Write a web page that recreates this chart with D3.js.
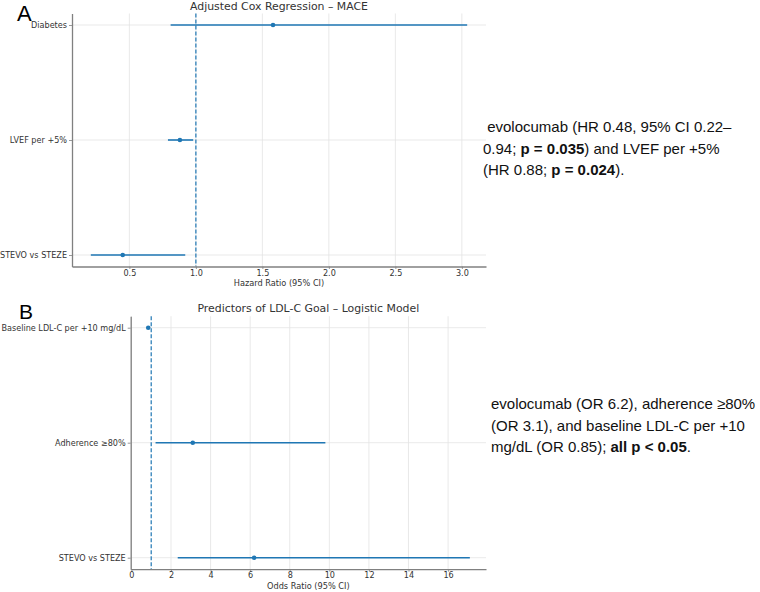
<!DOCTYPE html>
<html>
<head>
<meta charset="utf-8">
<script src="https://cdn.jsdelivr.net/npm/d3@7"></script>
<style>
  body { margin: 0; background: #fff; }
  svg { display: block; }
</style>
</head>
<body>
<div id="chart"></div>
<script>
// panel A - adjusted Cox regression (bottom to top)
const coxLabels = ['STEVO vs STEZE', 'LVEF per +5%', 'Diabetes'];
const coxHR = [0.45, 0.88, 1.58];
const coxLow = [0.21, 0.79, 0.81];
const coxHigh = [0.92, 0.98, 3.04];
const coxTicks = [0.5, 1.0, 1.5, 2.0, 2.5, 3.0];

// panel B - logistic model (bottom to top)
const logitLabels = ['STEVO vs STEZE', 'Adherence ≥80%', 'Baseline LDL-C per +10 mg/dL'];
const logitOR = [6.2, 3.1, 0.85];
const logitLow = [2.34, 1.22, 0.78];
const logitHigh = [17.1, 9.8, 0.92];
const logitTicks = [0, 2, 4, 6, 8, 10, 12, 14, 16];

// side notes, **bold** parts
const noteA = [' evolocumab (HR 0.48, 95% CI 0.22–', '0.94; **p = 0.035**) and LVEF per +5%', '(HR 0.88; **p = 0.024**).'];
const noteB = ['evolocumab (OR 6.2), adherence ≥80%', '(OR 3.1), and baseline LDL-C per +10', 'mg/dL (OR 0.85); **all p < 0.05**.'];

const width = 760, height = 592;
const blue = '#1f77b4';
const font = 'DejaVu Sans, sans-serif';

const svg = d3.select('#chart').append('svg')
  .attr('width', width)
  .attr('height', height);

function forest(o) {
  const rows = o.labels.map((l, i) => ({ label: l, est: o.est[i], lo: o.lo[i], hi: o.hi[i] }));
  const lo = d3.min(rows, d => d.lo), hi = d3.max(rows, d => d.hi);
  const pad = (hi - lo) * 0.05;

  const x = d3.scaleLinear().domain([lo - pad, hi + pad]).range([o.left, o.right]);
  const y = d3.scalePoint().domain(o.labels.slice().reverse()).range([o.top, o.bottom]).padding(0.1);

  const g = svg.append('g');

  // grid
  g.append('g').selectAll('line').data(o.ticks).join('line')
    .attr('x1', d => x(d)).attr('x2', d => x(d))
    .attr('y1', o.top).attr('y2', o.bottom)
    .attr('stroke', '#e3e3e3').attr('stroke-width', 0.8);
  g.append('g').selectAll('line').data(o.labels).join('line')
    .attr('x1', o.left).attr('x2', o.right)
    .attr('y1', d => y(d)).attr('y2', d => y(d))
    .attr('stroke', '#e3e3e3').attr('stroke-width', 0.8);

  // reference line at 1
  g.append('line')
    .attr('x1', x(1)).attr('x2', x(1))
    .attr('y1', o.top).attr('y2', o.bottom)
    .attr('stroke', blue).attr('stroke-width', 1.2)
    .attr('stroke-dasharray', '4,2');

  // intervals and points
  g.append('g').selectAll('line').data(rows).join('line')
    .attr('x1', d => x(d.lo)).attr('x2', d => x(d.hi))
    .attr('y1', d => y(d.label)).attr('y2', d => y(d.label))
    .attr('stroke', blue).attr('stroke-width', 1.6);
  g.append('g').selectAll('circle').data(rows).join('circle')
    .attr('cx', d => x(d.est)).attr('cy', d => y(d.label))
    .attr('r', 2.3).attr('fill', blue);

  // axes
  const xAxis = g.append('g')
    .attr('transform', `translate(0,${o.bottom})`)
    .call(d3.axisBottom(x).tickValues(o.ticks).tickFormat(o.fmt).tickSize(2.5).tickPadding(1).tickSizeOuter(0));
  const yAxis = g.append('g')
    .attr('transform', `translate(${o.left},0)`)
    .call(d3.axisLeft(y).tickSize(3).tickPadding(2).tickSizeOuter(0));
  [xAxis, yAxis].forEach(a => {
    a.select('.domain').attr('stroke', '#808080').attr('stroke-width', 1.3);
    a.selectAll('.tick line').attr('stroke', '#808080').attr('stroke-width', 0.8);
    a.selectAll('text').attr('fill', '#333').attr('font-family', font).attr('font-size', 8.1);
  });

  // title and x label
  g.append('text')
    .attr('x', (o.left + o.right) / 2).attr('y', o.top - 4)
    .attr('text-anchor', 'middle')
    .attr('font-family', font).attr('font-size', 10.9).attr('fill', '#333')
    .text(o.title);
  g.append('text')
    .attr('x', (o.left + o.right) / 2).attr('y', o.bottom + 19.5)
    .attr('text-anchor', 'middle')
    .attr('font-family', font).attr('font-size', 8.2).attr('fill', '#333')
    .text(o.xlabel);

  // panel letter
  svg.append('text')
    .attr('x', o.letterX).attr('y', o.letterY)
    .attr('font-family', 'Liberation Sans, Arial, sans-serif').attr('font-size', o.letterSize)
    .text(o.letter);
}

forest({
  labels: coxLabels, est: coxHR, lo: coxLow, hi: coxHigh, ticks: coxTicks,
  fmt: d3.format('.1f'),
  left: 72, right: 486, top: 13.5, bottom: 266.5,
  title: 'Adjusted Cox Regression – MACE', xlabel: 'Hazard Ratio (95% CI)',
  letter: 'A', letterX: 17, letterY: 21, letterSize: 22
});

forest({
  labels: logitLabels, est: logitOR, lo: logitLow, hi: logitHigh, ticks: logitTicks,
  fmt: d3.format('d'),
  left: 130.7, right: 486, top: 316.2, bottom: 569.2,
  title: 'Predictors of LDL-C Goal – Logistic Model', xlabel: 'Odds Ratio (95% CI)',
  letter: 'B', letterX: 19, letterY: 319, letterSize: 21
});

function note(lines, x, y0) {
  const t = svg.append('text')
    .attr('font-family', 'Liberation Sans, Arial, sans-serif')
    .attr('font-size', 15).attr('fill', '#111')
    .style('white-space', 'pre');
  lines.forEach((line, i) => {
    line.split('**').forEach((part, j) => {
      const s = t.append('tspan').text(part);
      if (j === 0) s.attr('x', x).attr('y', y0 + i * 21.5);
      if (j % 2 === 1) s.attr('font-weight', 'bold');
    });
  });
}

note(noteA, 483, 132);
note(noteB, 491, 409);
</script>
</body>
</html>
